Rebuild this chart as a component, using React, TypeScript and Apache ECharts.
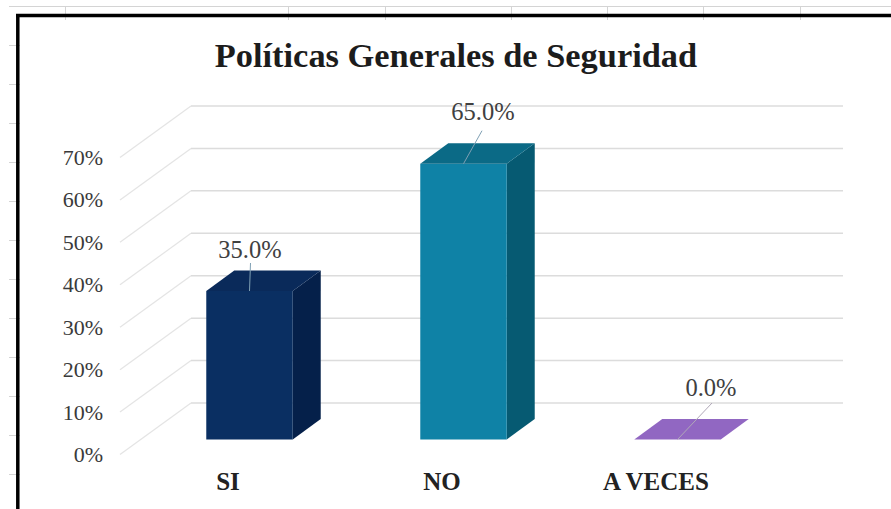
import React, { useEffect, useRef } from "react";
import * as echarts from "echarts";

const titleText = "Políticas Generales de Seguridad";
const categories = ["SI", "NO", "A VECES"];
const percentValues = [35, 65, 0];
const tickValues = [0, 10, 20, 30, 40, 50, 60, 70];
const valueLabels = ["35.0%", "65.0%", "0.0%"];

const frontColors = ["#0a2f62", "#0f82a6", "#9167c2"];
const topColors = ["#0a2a5a", "#0b6a86", "#9167c2"];
const sideColors = ["#05204a", "#065a72", "#9167c2"];

const SERIF = "'Liberation Serif', serif";
const sheetTicksX = [65, 288, 385, 511, 607, 703, 800];
const sheetTicksY = [45, 84, 123, 162, 201, 240, 279, 318, 357, 396, 435, 474];

// Offsets of the value label leader lines, from the bar's top-centre (px)
const leaderEnds = [
  [1, -28],
  [18.5, -33],
  [34.5, -36.5],
];
const labelCentres = [
  [0.5, -42],
  [19.5, -52],
  [33.5, -52.5],
];

export default function App() {
  const ref = useRef<HTMLDivElement>(null);

  useEffect(() => {
    if (!ref.current) return;
    const chart = echarts.init(ref.current, null, { renderer: "svg" });

    const grayLine = (x1: number, y1: number, x2: number, y2: number) => ({
      type: "line",
      shape: { x1, y1, x2, y2 },
      style: { stroke: "#d4d4d4", lineWidth: 1 },
      silent: true,
    });

    chart.setOption({
      animation: false,
      backgroundColor: "#ffffff",
      title: {
        text: titleText,
        left: 451,
        top: 33,
        textAlign: "center",
        textStyle: {
          fontFamily: SERIF,
          fontWeight: "bold",
          fontSize: 34.4,
          color: "#1c1c1c",
        },
      },
      grid: { left: 121, right: 128, top: 157.5, bottom: 54.5 },
      xAxis: {
        type: "category",
        data: categories,
        axisLine: { show: false },
        axisTick: { show: false },
        splitLine: { show: false },
        axisLabel: {
          fontFamily: SERIF,
          fontWeight: "bold",
          fontSize: 25,
          color: "#222222",
          margin: 14,
        },
      },
      yAxis: {
        type: "value",
        min: 0,
        max: 70,
        interval: 10,
        axisLine: { show: false },
        axisTick: { show: false },
        splitLine: { show: false },
        axisLabel: {
          formatter: "{value}%",
          fontFamily: SERIF,
          fontSize: 22,
          color: "#3a3a3a",
          margin: 18,
        },
      },
      graphic: [
        grayLine(9, 6.5, 891, 6.5),
        ...sheetTicksX.map((x) => grayLine(x + 0.5, 6, x + 0.5, 20)),
        ...sheetTicksY.map((y) => grayLine(9, y + 0.5, 20, y + 0.5)),
        {
          type: "line",
          shape: { x1: 16, y1: 15.5, x2: 891, y2: 15.5 },
          style: { stroke: "#000000", lineWidth: 3.5 },
          silent: true,
        },
        {
          type: "line",
          shape: { x1: 17.8, y1: 14, x2: 17.8, y2: 509 },
          style: { stroke: "#000000", lineWidth: 3.5 },
          silent: true,
        },
      ],
      series: [
        {
          type: "custom",
          coordinateSystem: "cartesian2d",
          silent: true,
          z: 1,
          data: tickValues.map((v) => [0, v]),
          renderItem: (params: any, api: any) => {
            const y = api.coord([0, api.value(1)])[1];
            const left = params.coordSys.x - 1;
            const right = params.coordSys.x + params.coordSys.width + 80;
            return {
              type: "group",
              children: [
                {
                  type: "polyline",
                  shape: {
                    points: [
                      [left, y],
                      [left + 71, y - 51.5],
                    ],
                  },
                  style: { stroke: "#e4e4e4", lineWidth: 1.2, fill: "none" },
                },
                {
                  type: "line",
                  shape: { x1: left + 71, y1: y - 51.5, x2: right, y2: y - 51.5 },
                  style: { stroke: "#dcdcdc", lineWidth: 1.5 },
                },
              ],
            };
          },
        },
        {
          type: "custom",
          coordinateSystem: "cartesian2d",
          silent: true,
          z: 2,
          data: percentValues.map((v, i) => [i, v]),
          renderItem: (params: any, api: any) => {
            const i = params.dataIndex;
            const zero = api.coord([i, 0]);
            const top = api.coord([i, api.value(1)]);
            const w = api.size([1, 0])[0] * 0.404;
            const cx = zero[0] + 21.5;
            const x0 = cx - w / 2;
            const x1 = cx + w / 2;
            const yBase = zero[1] - 15;
            const yTop = top[1] - 15;
            const dx = 28;
            const dy = 20.5;
            const end = leaderEnds[i];
            const lab = labelCentres[i];
            const children: any[] = [];
            if (yBase - yTop > 0.5) {
              children.push({
                type: "polygon",
                shape: { points: [[x1, yTop], [x1 + dx, yTop - dy], [x1 + dx, yBase - dy], [x1, yBase]] },
                style: { fill: sideColors[i] },
              });
              children.push({
                type: "rect",
                shape: { x: x0, y: yTop, width: w, height: yBase - yTop },
                style: { fill: frontColors[i] },
              });
            }
            children.push({
              type: "polygon",
              shape: { points: [[x0, yTop], [x0 + dx, yTop - dy], [x1 + dx, yTop - dy], [x1, yTop]] },
              style: { fill: topColors[i] },
            });
            children.push({
              type: "line",
              shape: { x1: cx, y1: yTop, x2: cx + end[0], y2: yTop + end[1] },
              style: { stroke: i === 2 ? "#b0a8b8" : "#7fa0b4", lineWidth: 1 },
            });
            children.push({
              type: "text",
              x: cx + lab[0],
              y: yTop + lab[1],
              style: {
                text: valueLabels[i],
                fontFamily: SERIF,
                fontSize: 24.5,
                fill: "#404040",
                align: "center",
                verticalAlign: "middle",
              },
            });
            return { type: "group", children };
          },
        },
      ],
    });

    return () => chart.dispose();
  }, []);

  return (
    <div
      ref={ref}
      style={{ position: "absolute", left: 0, top: 0, width: 891, height: 509 }}
    />
  );
}
